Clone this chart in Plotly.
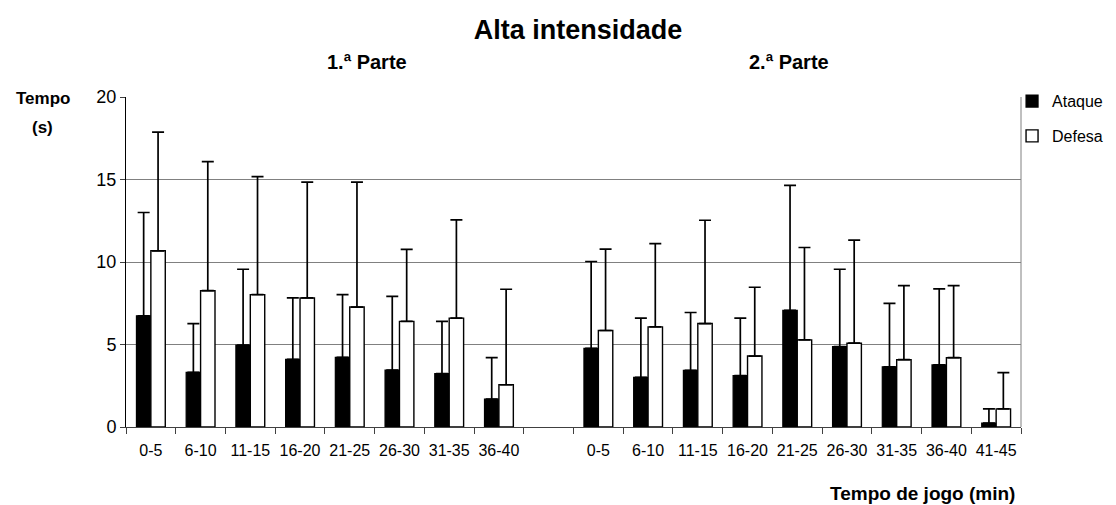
import plotly.graph_objects as go

# ---- data ----
cats_1 = ["0-5", "6-10", "11-15", "16-20", "21-25", "26-30", "31-35", "36-40"]
cats_2 = ["0-5", "6-10", "11-15", "16-20", "21-25", "26-30", "31-35", "36-40", "41-45"]

ataque_1 = [6.74, 3.31, 4.97, 4.10, 4.22, 3.45, 3.23, 1.69]
ataque_1_sd = [6.26, 2.96, 4.59, 3.72, 3.80, 4.47, 3.17, 2.51]
defesa_1 = [10.68, 8.26, 8.02, 7.82, 7.27, 6.40, 6.60, 2.56]
defesa_1_sd = [7.19, 7.82, 7.15, 7.02, 7.57, 4.36, 5.95, 5.79]

ataque_2 = [4.77, 3.01, 3.43, 3.11, 7.07, 4.87, 3.65, 3.76, 0.24]
ataque_2_sd = [5.26, 3.59, 3.51, 3.49, 7.57, 4.69, 3.84, 4.61, 0.86]
defesa_2 = [5.85, 6.07, 6.27, 4.30, 5.28, 5.08, 4.08, 4.20, 1.10]
defesa_2_sd = [4.93, 5.04, 6.26, 4.17, 5.60, 6.25, 4.49, 4.37, 2.19]

title = "Alta intensidade"
part_labels = ["1.ª Parte", "2.ª Parte"]
series_names = ["Ataque", "Defesa"]
y_title = ["Tempo", "(s)"]
x_title = "Tempo de jogo (min)"

# ---- positions: first half, one empty slot, second half ----
pos_1 = list(range(len(cats_1)))
pos_2 = [len(cats_1) + 1 + i for i in range(len(cats_2))]
positions = pos_1 + pos_2
labels = cats_1 + cats_2
n_slots = len(cats_1) + 1 + len(cats_2)

FONT = "Liberation Sans, Arial, sans-serif"

fig = go.Figure()
fig.add_trace(go.Bar(
    name=series_names[0], x=positions, y=ataque_1 + ataque_2,
    marker=dict(color="black", line=dict(color="black", width=1.2)),
    error_y=dict(type="data", array=ataque_1_sd + ataque_2_sd,
                 arrayminus=[0] * len(positions), symmetric=False,
                 color="black", thickness=1.7, width=6),
    legendgroup="a",
))
fig.add_trace(go.Bar(
    name=series_names[1], x=positions, y=defesa_1 + defesa_2,
    marker=dict(color="white", line=dict(color="black", width=1.4)),
    error_y=dict(type="data", array=defesa_1_sd + defesa_2_sd,
                 arrayminus=[0] * len(positions), symmetric=False,
                 color="black", thickness=1.7, width=6),
    legendgroup="d",
))

fig.update_layout(
    width=1108, height=497,
    margin=dict(l=118, r=95, t=89, b=78, autoexpand=False),
    paper_bgcolor="white", plot_bgcolor="white",
    font=dict(family=FONT, color="black"),
    barmode="group", bargap=0.42, bargroupgap=0,
    title=dict(text="<b>" + title + "</b>", x=0.5144, xanchor="center",
               y=0.9557, yanchor="middle", font=dict(size=27, family=FONT)),
    showlegend=True,
    legend=dict(x=0.99, xanchor="left", y=1.039, yanchor="top",
                font=dict(size=16, family=FONT), tracegroupgap=11,
                bgcolor="rgba(0,0,0,0)", itemwidth=30),
    xaxis=dict(
        range=[-0.5, n_slots - 0.5],
        tickmode="array", tickvals=positions, ticktext=labels,
        ticks="", tickfont=dict(size=16, family=FONT),
        ticklabelstandoff=9,
        showgrid=False, zeroline=False,
        showline=True, linecolor="#404040", linewidth=1,
        minor=dict(tickmode="linear", tick0=-0.5, dtick=1, ticks="outside",
                   ticklen=6, tickcolor="#404040", tickwidth=1, showgrid=False),
    ),
    yaxis=dict(
        range=[0, 20], tickmode="linear", tick0=0, dtick=5,
        ticks="outside", ticklen=5, tickcolor="#404040",
        tickfont=dict(size=18, family=FONT),
        showgrid=True, gridcolor="#808080", gridwidth=1,
        zeroline=False, showline=True, linecolor="black", linewidth=1,
    ),
    shapes=[dict(type="line", xref="paper", yref="paper", x0=1, x1=1, y0=0, y1=1,
                 line=dict(color="#808080", width=1))],
    annotations=[
        dict(text="<b>" + part_labels[0] + "</b>", xref="paper", yref="paper",
             x=0.2698, y=1.106, xanchor="center", yanchor="middle",
             showarrow=False, font=dict(size=20, family=FONT)),
        dict(text="<b>" + part_labels[1] + "</b>", xref="paper", yref="paper",
             x=0.7413, y=1.106, xanchor="center", yanchor="middle",
             showarrow=False, font=dict(size=20, family=FONT)),
        dict(text="<b>" + y_title[0] + "</b>", xref="paper", yref="paper",
             x=-0.0922, y=0.9955, xanchor="center", yanchor="middle",
             showarrow=False, font=dict(size=17, family=FONT)),
        dict(text="<b>" + y_title[1] + "</b>", xref="paper", yref="paper",
             x=-0.0933, y=0.909, xanchor="center", yanchor="middle",
             showarrow=False, font=dict(size=17, family=FONT)),
        dict(text="<b>" + x_title + "</b>", xref="paper", yref="paper",
             x=0.9955, xanchor="right", y=-0.203, yanchor="middle",
             showarrow=False, font=dict(size=19, family=FONT)),
    ],
)

fig.write_html("out.html")
